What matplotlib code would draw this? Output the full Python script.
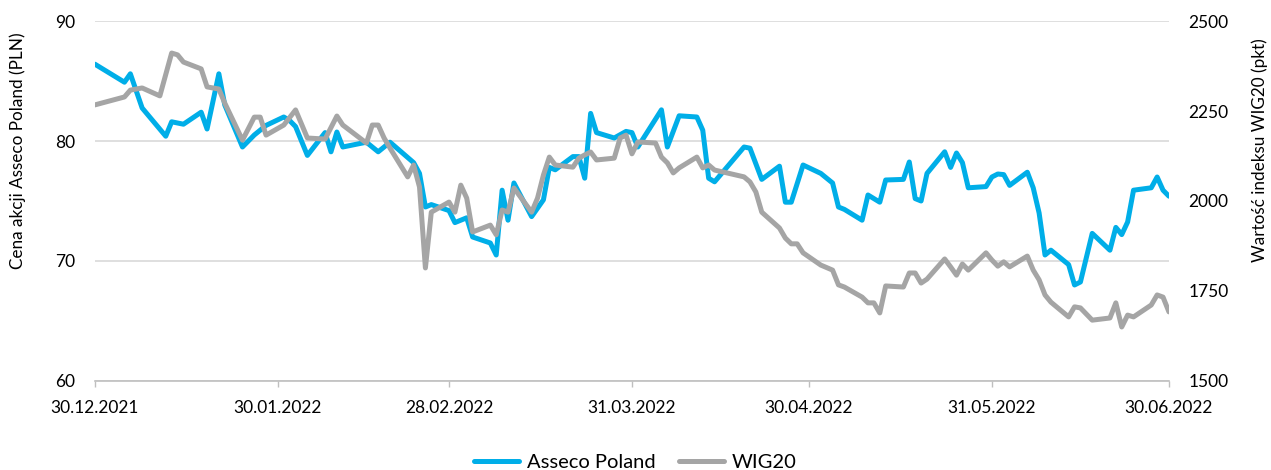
import pandas as pd
import matplotlib
matplotlib.use("Agg")
import matplotlib.pyplot as plt
import matplotlib.dates as mdates

# Asseco Poland closing prices (PLN)
asseco_dates = [
    "2021-12-30", "2022-01-04", "2022-01-05", "2022-01-07", "2022-01-11", "2022-01-12",
    "2022-01-14", "2022-01-17", "2022-01-18", "2022-01-20", "2022-01-21", "2022-01-24",
    "2022-01-26", "2022-01-28", "2022-01-31", "2022-02-01", "2022-02-02", "2022-02-04",
    "2022-02-07", "2022-02-08", "2022-02-09", "2022-02-10", "2022-02-14", "2022-02-16",
    "2022-02-18", "2022-02-22", "2022-02-23", "2022-02-24", "2022-02-25", "2022-02-28",
    "2022-03-01", "2022-03-03", "2022-03-04", "2022-03-07", "2022-03-08", "2022-03-09",
    "2022-03-10", "2022-03-11", "2022-03-14", "2022-03-16", "2022-03-17", "2022-03-18",
    "2022-03-21", "2022-03-22", "2022-03-23", "2022-03-24", "2022-03-25", "2022-03-28",
    "2022-03-30", "2022-03-31", "2022-04-01", "2022-04-05", "2022-04-06", "2022-04-08",
    "2022-04-11", "2022-04-12", "2022-04-13", "2022-04-14", "2022-04-19", "2022-04-20",
    "2022-04-22", "2022-04-25", "2022-04-26", "2022-04-27", "2022-04-29", "2022-05-02",
    "2022-05-04", "2022-05-05", "2022-05-06", "2022-05-09", "2022-05-10", "2022-05-12",
    "2022-05-13", "2022-05-16", "2022-05-17", "2022-05-18", "2022-05-19", "2022-05-20",
    "2022-05-23", "2022-05-24", "2022-05-25", "2022-05-26", "2022-05-27", "2022-05-30",
    "2022-05-31", "2022-06-01", "2022-06-02", "2022-06-03", "2022-06-06", "2022-06-07",
    "2022-06-08", "2022-06-09", "2022-06-10", "2022-06-13", "2022-06-14", "2022-06-15",
    "2022-06-17", "2022-06-20", "2022-06-21", "2022-06-22", "2022-06-23", "2022-06-24",
    "2022-06-27", "2022-06-28", "2022-06-29", "2022-06-30",
]
asseco_values = [
    86.4, 84.9, 85.6, 82.75, 80.4, 81.6,
    81.4, 82.4, 81.0, 85.6, 83.0, 79.5,
    80.5, 81.3, 82.0, 81.7, 81.2, 78.8,
    80.7, 79.1, 80.75, 79.5, 79.9, 79.1,
    79.9, 78.2, 77.3, 74.5, 74.7, 74.2,
    73.2, 73.6, 72.0, 71.5, 70.5, 75.9,
    73.4, 76.5, 73.7, 75.1, 77.8, 77.6,
    78.7, 78.7, 76.9, 82.3, 80.7, 80.25,
    80.8, 80.7, 79.5, 82.6, 79.5, 82.1,
    82.0, 80.9, 76.9, 76.6, 79.5, 79.4,
    76.8, 77.9, 74.9, 74.9, 78.0, 77.3,
    76.5, 74.5, 74.3, 73.4, 75.5, 74.9,
    76.75, 76.8, 78.25, 75.2, 75.0, 77.3,
    79.1, 77.8, 79.0, 78.2, 76.1, 76.2,
    77.0, 77.25, 77.2, 76.3, 77.4, 76.1,
    74.0, 70.5, 70.9, 69.7, 68.0, 68.25,
    72.3, 70.9, 72.8, 72.2, 73.25, 75.9,
    76.1, 77.0, 75.9, 75.4,
]

# WIG20 index level (pkt)
wig_dates = [
    "2021-12-30", "2022-01-04", "2022-01-05", "2022-01-07", "2022-01-10", "2022-01-12",
    "2022-01-13", "2022-01-14", "2022-01-17", "2022-01-18", "2022-01-20", "2022-01-21",
    "2022-01-24", "2022-01-26", "2022-01-27", "2022-01-28", "2022-01-31", "2022-02-02",
    "2022-02-04", "2022-02-07", "2022-02-09", "2022-02-10", "2022-02-14", "2022-02-15",
    "2022-02-16", "2022-02-17", "2022-02-18", "2022-02-21", "2022-02-22", "2022-02-23",
    "2022-02-24", "2022-02-25", "2022-02-28", "2022-03-01", "2022-03-02", "2022-03-03",
    "2022-03-04", "2022-03-07", "2022-03-08", "2022-03-09", "2022-03-10", "2022-03-11",
    "2022-03-14", "2022-03-15", "2022-03-16", "2022-03-17", "2022-03-18", "2022-03-21",
    "2022-03-22", "2022-03-23", "2022-03-24", "2022-03-25", "2022-03-28", "2022-03-29",
    "2022-03-30", "2022-03-31", "2022-04-01", "2022-04-04", "2022-04-05", "2022-04-06",
    "2022-04-07", "2022-04-08", "2022-04-11", "2022-04-12", "2022-04-13", "2022-04-14",
    "2022-04-19", "2022-04-20", "2022-04-21", "2022-04-22", "2022-04-25", "2022-04-26",
    "2022-04-27", "2022-04-28", "2022-04-29", "2022-05-02", "2022-05-04", "2022-05-05",
    "2022-05-06", "2022-05-09", "2022-05-10", "2022-05-11", "2022-05-12", "2022-05-13",
    "2022-05-16", "2022-05-17", "2022-05-18", "2022-05-19", "2022-05-20", "2022-05-23",
    "2022-05-24", "2022-05-25", "2022-05-26", "2022-05-27", "2022-05-30", "2022-05-31",
    "2022-06-01", "2022-06-02", "2022-06-03", "2022-06-06", "2022-06-07", "2022-06-08",
    "2022-06-09", "2022-06-10", "2022-06-13", "2022-06-14", "2022-06-15", "2022-06-17",
    "2022-06-20", "2022-06-21", "2022-06-22", "2022-06-23", "2022-06-24", "2022-06-27",
    "2022-06-28", "2022-06-29", "2022-06-30",
]
wig_values = [
    2267, 2289, 2308, 2314, 2292, 2411,
    2406, 2386, 2367, 2317, 2311, 2272,
    2169, 2233, 2233, 2183, 2211, 2253,
    2175, 2172, 2236, 2211, 2161, 2211,
    2211, 2175, 2147, 2067, 2100, 2039,
    1814, 1969, 1997, 1969, 2044, 2008,
    1914, 1933, 1906, 1975, 1969, 2036,
    1969, 2008, 2072, 2122, 2100, 2094,
    2119, 2128, 2136, 2114, 2119, 2175,
    2183, 2131, 2164, 2161, 2122, 2106,
    2078, 2092, 2122, 2092, 2100, 2086,
    2067, 2053, 2025, 1969, 1925, 1897,
    1881, 1881, 1856, 1822, 1808, 1767,
    1761, 1733, 1717, 1717, 1689, 1764,
    1761, 1800, 1800, 1772, 1783, 1839,
    1817, 1794, 1825, 1808, 1856, 1836,
    1819, 1831, 1817, 1847, 1808, 1781,
    1739, 1719, 1678, 1706, 1703, 1669,
    1675, 1717, 1650, 1683, 1678, 1711,
    1739, 1733, 1692,
]

tick_dates = ["2021-12-30", "2022-01-30", "2022-02-28", "2022-03-31",
              "2022-04-30", "2022-05-31", "2022-06-30"]

BLUE = "#00AEE8"
GREY = "#A5A5A5"

plt.rcParams["font.family"] = ["Lato", "DejaVu Sans"]

fig = plt.figure(figsize=(12.71, 4.70), dpi=100)
ax = fig.add_axes([0.0747, 0.1894, 0.9197 - 0.0747, 0.9553 - 0.1894])
ax2 = ax.twinx()

l1, = ax.plot(pd.to_datetime(asseco_dates), asseco_values, color=BLUE, lw=3.6,
              solid_joinstyle="round", solid_capstyle="round", label="Asseco Poland")
l2, = ax2.plot(pd.to_datetime(wig_dates), wig_values, color=GREY, lw=3.6,
               solid_joinstyle="round", solid_capstyle="round", label="WIG20")

ax.set_xlim(pd.Timestamp("2021-12-30"), pd.Timestamp("2022-06-30"))
ax.set_ylim(60, 90)
ax.set_yticks([60, 70, 80, 90])
ax2.set_ylim(1500, 2500)
ax2.set_yticks([1500, 1750, 2000, 2250, 2500])

ax.set_xticks(pd.to_datetime(tick_dates))
ax.xaxis.set_major_formatter(mdates.DateFormatter("%d.%m.%Y"))

ax.grid(axis="y", color="#D9D9D9", lw=1.2)
ax.set_axisbelow(True)

for a in (ax, ax2):
    for side in ("top", "left", "right"):
        a.spines[side].set_visible(False)
ax2.spines["bottom"].set_visible(False)
ax.spines["bottom"].set_color("#BFBFBF")
ax.spines["bottom"].set_linewidth(1.2)

ax.tick_params(axis="x", length=4, width=1, color="#BFBFBF", labelsize=12.5, pad=10)
ax.tick_params(axis="y", length=0, labelsize=12.5, pad=14)
ax2.tick_params(axis="y", length=0, labelsize=12.5, pad=14)

ax.set_ylabel("Cena akcji Asseco Poland (PLN)", fontsize=12.3)
ax2.set_ylabel("Wartość indeksu WIG20 (pkt)", fontsize=12.3)
ax.yaxis.set_label_coords(-0.064, 0.64)
ax2.yaxis.set_label_coords(1.077, 0.64)

fig.legend(handles=[l1, l2], loc="lower center", ncol=2, frameon=False,
           fontsize=14.5, handlelength=2.2, handletextpad=0.4, columnspacing=1.2,
           bbox_to_anchor=(0.5, -0.04))

fig.savefig("out.png", dpi=100)
